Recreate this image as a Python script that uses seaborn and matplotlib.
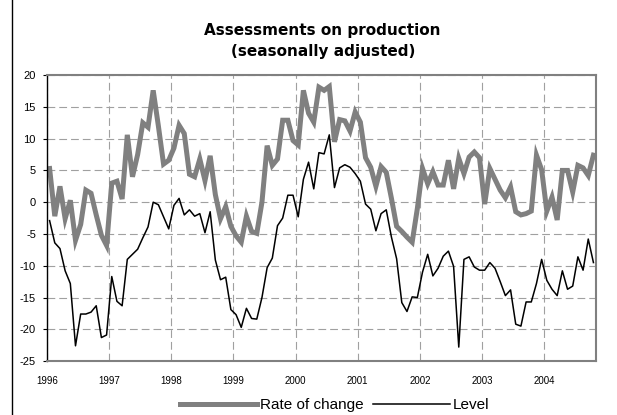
import numpy as np
import pandas as pd
import matplotlib
matplotlib.use("Agg")
import matplotlib.pyplot as plt
import seaborn as sns
from matplotlib.lines import Line2D

# monthly data, Jan 1996 - Oct 2004
months = pd.date_range("1996-01-01", periods=106, freq="MS")

rate_of_change = [
    5.3, -2.2, 2.5, -2.6, 0.3, -6.0, -3.5, 1.9, 1.4, -2.0,
    -5.2, -6.8, 3.0, 3.3, 0.5, 10.6, 4.0, 7.5, 12.5, 11.8,
    17.6, 12.0, 6.0, 6.6, 8.5, 12.1, 10.8, 4.4, 4.0, 6.8,
    3.4, 7.3, 1.2, -2.6, -0.7, -3.8, -5.3, -6.3, -2.2, -4.6,
    -4.9, 0.0, 8.9, 5.8, 6.8, 12.9, 12.9, 9.7, 9.0, 17.6,
    14.0, 12.6, 18.1, 17.6, 18.2, 9.5, 13.0, 12.8, 11.2, 14.2,
    12.6, 7.0, 5.5, 2.5, 5.6, 4.7, 0.6, -3.8, -4.6, -5.5,
    -6.3, -1.0, 5.3, 2.9, 4.8, 2.7, 2.7, 6.6, 2.1, 6.9,
    4.5, 7.1, 7.9, 7.0, -0.3, 5.3, 3.6, 1.9, 0.7, 2.4,
    -1.5, -2.0, -1.8, -1.4, 7.4, 5.1, -1.4, 0.8, -2.8, 5.0,
    5.0, 1.6, 5.8, 5.4, 4.2, 7.4,
]

level = [
    -2.9, -6.4, -7.3, -10.8, -12.8, -22.6, -17.6, -17.6, -17.3, -16.3,
    -21.3, -20.9, -11.7, -15.6, -16.3, -9.0, -8.2, -7.4, -5.6, -3.9,
    0.0, -0.4, -2.3, -4.2, -0.5, 0.6, -2.0, -1.2, -2.2, -1.8,
    -4.8, -1.5, -9.1, -12.2, -11.8, -16.9, -17.7, -19.7, -16.7, -18.3,
    -18.4, -15.0, -10.3, -8.8, -3.7, -2.5, 1.1, 1.1, -2.3, 3.6,
    6.3, 2.1, 7.8, 7.6, 10.6, 2.3, 5.4, 5.9, 5.5, 4.5,
    3.3, -0.3, -1.1, -4.5, -1.8, -1.2, -5.5, -8.9, -15.8, -17.2,
    -14.9, -15.0, -11.0, -8.2, -11.6, -10.4, -8.5, -7.7, -10.1, -22.8,
    -9.0, -8.6, -10.2, -10.7, -10.7, -9.5, -10.4, -12.5, -14.7, -13.8,
    -19.2, -19.5, -15.7, -15.7, -12.8, -9.0, -12.3, -13.7, -14.7, -10.8,
    -13.7, -13.2, -8.6, -10.7, -5.8, -9.5,
]

years = list(range(1996, 2005))

df = pd.DataFrame({
    "t": months.year + (months.month - 0.5) / 12,
    "rate": rate_of_change,
    "level": level,
})

plt.rcParams["font.family"] = ["Liberation Sans", "DejaVu Sans"]
plt.rcParams["axes.unicode_minus"] = False

fig = plt.figure(figsize=(6.17, 4.15), dpi=100)
ax = fig.add_axes([0.0762, 0.130, 0.8898, 0.689])

grey = "#808080"
sns.lineplot(data=df, x="t", y="rate", color=grey, linewidth=3.6, ax=ax,
             solid_joinstyle="miter")
sns.lineplot(data=df, x="t", y="level", color="black", linewidth=1.1, ax=ax)

ax.set_xlim(1996, 1996 + 106 / 12)
ax.set_ylim(-25, 20)
ax.set_yticks(range(-25, 21, 5))
ax.set_xticks(years)
ax.set_xticklabels([str(y) for y in years])
ax.set_xlabel("")
ax.set_ylabel("")

ax.grid(True, color="#a0a0a0", linestyle=(0, (7, 3.6)), linewidth=0.8)
ax.set_axisbelow(True)

ax.tick_params(axis="y", labelsize=8, length=3, width=0.8, pad=5, color="black")
ax.tick_params(axis="x", labelsize=7, length=0, pad=11)

for side in ["top", "right", "bottom"]:
    ax.spines[side].set_color(grey)
    ax.spines[side].set_linewidth(1.5)
ax.spines["left"].set_color("black")
ax.spines["left"].set_linewidth(1.0)

fig.text(0.523, 0.901, "Assessments on production\n(seasonally adjusted)",
         ha="center", va="center", fontsize=11, fontweight="bold",
         family="DejaVu Sans", linespacing=1.45)

handles = [Line2D([], [], color=grey, linewidth=3.6),
           Line2D([], [], color="black", linewidth=1.1)]
fig.legend(handles, ["Rate of change", "Level"], loc="center",
           bbox_to_anchor=(0.542, 0.024), ncol=2, frameon=False,
           fontsize=11, handlelength=5.1, handletextpad=0.15,
           columnspacing=0.6)

# chart area border on the left
fig.add_artist(Line2D([12 / 617, 12 / 617], [0, 1], color="black",
                      linewidth=1.0, transform=fig.transFigure))

fig.savefig("out.png", dpi=100)
